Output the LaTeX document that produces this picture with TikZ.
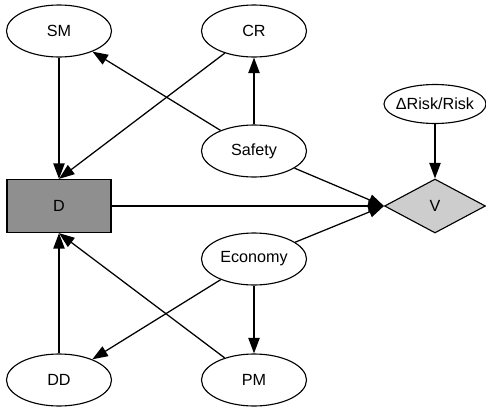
\documentclass[tikz,border=0pt]{standalone}
\usepackage{fontspec}
\setmainfont{Liberation Sans}
\usepackage{tikz}
\usetikzlibrary{positioning,arrows.meta,shapes.geometric}
\definecolor{dfill}{HTML}{8f8f8f}
\definecolor{vfill}{HTML}{cdcdcd}

\begin{document}
\begin{tikzpicture}[font=\fontsize{11.5}{13}\selectfont,
    chance/.style={draw,ellipse,line width=0.8pt,minimum width=2.625cm,minimum height=1.3cm,inner sep=1pt},
    decide/.style={draw,rectangle,line width=0.9pt,fill=dfill,minimum width=2.6cm,minimum height=1.325cm},
    worth/.style={draw,diamond,line width=0.8pt,fill=vfill,minimum width=2.525cm,minimum height=1.35cm,inner sep=1pt},
    link/.style={line width=0.9pt,-{Triangle[length=11pt,width=8pt]}}]
  \useasboundingbox (0,0) rectangle (12.15,10.175);
  % top row
  \node[chance] (sm) at (1.475,9.4) {SM};
  \node[chance] (cr) at (6.35,9.4) {CR};
  \node[chance,minimum width=2.55cm,minimum height=0.975cm,inner xsep=-6pt] (risk) at (10.875,7.575) {ΔRisk/Risk};
  % middle row
  \node[chance] (safety) at (6.35,6.4) {Safety};
  \node[decide] (d) at (1.475,5.025) {D};
  \node[worth] (v) at (10.875,5.025) {V};
  \node[chance] (economy) at (6.35,3.7) {Economy};
  % bottom row
  \node[chance] (dd) at (1.475,0.675) {DD};
  \node[chance] (pm) at (6.35,0.675) {PM};

  % links into D
  \draw[link] (sm) -- (d);
  \draw[link] (cr) -- (d.north);
  \draw[link] (dd) -- (d);
  \draw[link] (pm) -- (d.south);
  % links out of Safety and Economy
  \draw[link] (safety) -- (sm);
  \draw[link] (safety) -- (cr);
  \draw[link] (safety) -- (v.west);
  \draw[link] (economy) -- (v.west);
  \draw[link] (economy) -- (dd);
  \draw[link] (economy) -- (pm);
  % into V
  \draw[link] (d) -- (v.west);
  \draw[link] (risk) -- (v);
\end{tikzpicture}
\end{document}
